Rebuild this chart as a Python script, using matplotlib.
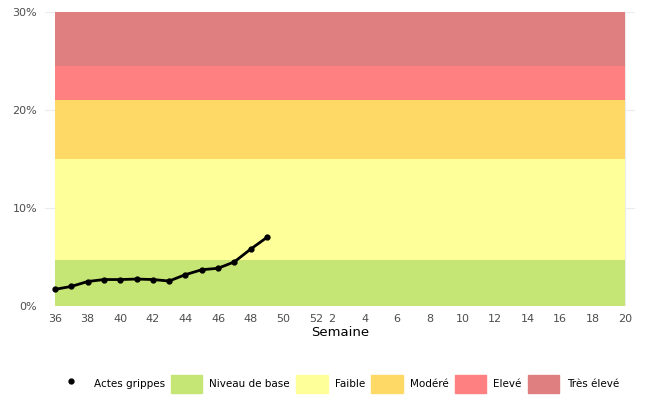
import matplotlib.pyplot as plt
from matplotlib.patches import Patch
from matplotlib.lines import Line2D

weeks = [36, 37, 38, 39, 40, 41, 42, 43, 44, 45, 46, 47, 48, 49]
rates = [1.7, 2.0, 2.5, 2.7, 2.7, 2.75, 2.7, 2.55, 3.2, 3.7, 3.85, 4.5, 5.8, 7.0]

band_names = ["Niveau de base", "Faible", "Modéré", "Elevé", "Très élevé"]
band_edges = [0, 4.7, 15, 21, 24.5, 30]
band_colors = ["#C5E574", "#FFFF99", "#FFD966", "#FF8080", "#E07F7F"]

tick_weeks = [36, 38, 40, 42, 44, 46, 48, 50, 52, 2, 4, 6, 8, 10, 12, 14, 16, 18, 20]


def pos(w):
    return w - 36 if w >= 36 else w + 15


fig, ax = plt.subplots(figsize=(6.48, 4.0), dpi=100)
fig.subplots_adjust(left=0.07, right=0.98, top=0.97, bottom=0.235)

x0, x1 = pos(36), pos(20)
for i, c in enumerate(band_colors):
    ax.fill_between([x0, x1], band_edges[i], band_edges[i + 1], color=c, lw=0, zorder=1)

ax.plot([pos(w) for w in weeks], rates, color="black", lw=2, marker="o", ms=3.5, zorder=3)

ax.set_xlim(x0 - 0.6, x1 + 0.6)
ax.set_ylim(0, 30)
ax.set_yticks([0, 10, 20, 30])
ax.set_yticklabels(["0%", "10%", "20%", "30%"])
ax.set_xticks([pos(w) for w in tick_weeks])
ax.set_xticklabels([str(w) for w in tick_weeks])
ax.tick_params(length=0, labelsize=8, colors="#4d4d4d", pad=6)
ax.grid(color="#ebebeb", lw=0.8, zorder=0)
ax.set_axisbelow(True)
for s in ax.spines.values():
    s.set_visible(False)
ax.set_xlabel("Semaine", fontsize=9.5, labelpad=1)

handles = [Line2D([], [], color="black", marker="o", ls="none", ms=3.5)]
handles += [Patch(color=c) for c in band_colors]
labels = ["Actes grippes"] + band_names
fig.legend(handles, labels, loc="lower center", ncol=6, frameon=False, fontsize=7.5,
           bbox_to_anchor=(0.52, 0.0), handlelength=3.0, handleheight=2.3,
           handletextpad=0.7, columnspacing=0.6, borderaxespad=0.3)

fig.savefig("out.png")
